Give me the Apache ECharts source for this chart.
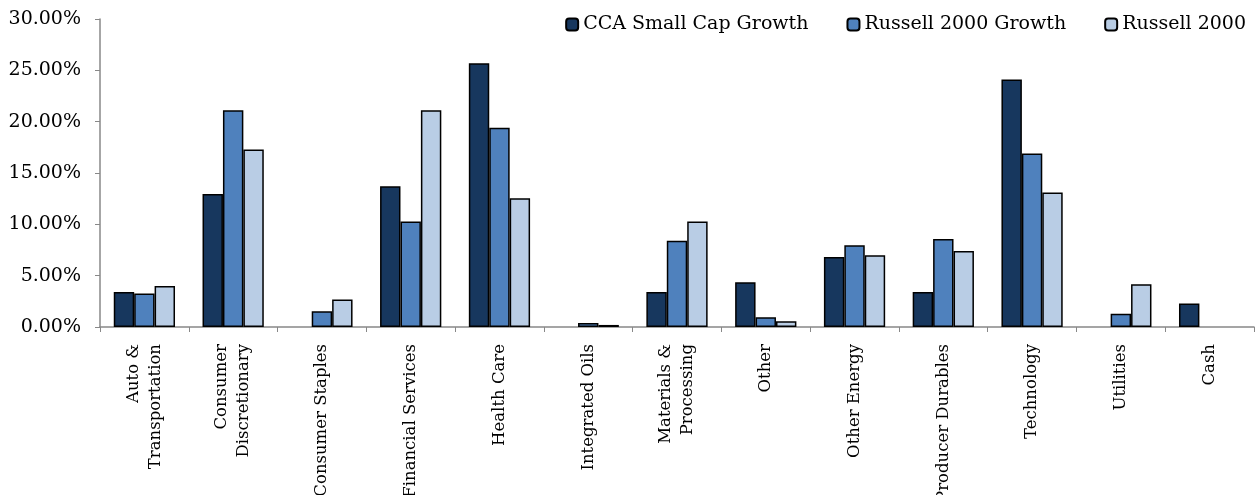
<!DOCTYPE html>
<html>
<head>
<meta charset="utf-8">
<script src="https://cdn.jsdelivr.net/npm/echarts@6/dist/echarts.min.js"></script>
<style>html,body{margin:0;padding:0;background:#fff}#c{width:1255px;height:495px}</style>
</head>
<body>
<div id="c"></div>
<script>
const categories = ["Auto &\nTransportation","Consumer\nDiscretionary","Consumer Staples","Financial Services","Health Care","Integrated Oils","Materials &\nProcessing","Other","Other Energy","Producer Durables","Technology","Utilities","Cash"];
const ccaSmallCapGrowth = [3.41,12.95,0,13.7,25.7,0,3.41,4.36,6.83,3.41,24.1,0,2.28];
const russell2000Growth = [3.26,21.1,1.53,10.28,19.4,0.4,8.39,0.95,7.97,8.56,16.9,1.3,0];
const russell2000 = [4.0,17.3,2.67,21.1,12.53,0.2,10.28,0.56,7.0,7.41,13.1,4.17,0];
const yTicks = [0,5,10,15,20,25,30];

const FONT = "DejaVu Serif";
const chart = echarts.init(document.getElementById('c'));
const mk = (name, data, color) => ({
  name, type: 'bar', data: data.map(v => v === 0 ? '-' : v), barGap: '0%', barCategoryGap: '31%',
  itemStyle: { color, borderColor: '#000', borderWidth: 1.5 },
  emphasis: { disabled: true }
});
chart.setOption({
  animation: false,
  textStyle: { fontFamily: FONT },
  legend: {
    top: 10, right: 4, itemWidth: 12, itemHeight: 12, itemGap: 38, itemTextGap: 7,
    textStyle: { fontFamily: FONT, fontSize: 19, color: '#000' },
    data: ['CCA Small Cap Growth','Russell 2000 Growth','Russell 2000']
  },
  grid: { left: 100, right: 1, top: 19, bottom: 168, outerBoundsMode: 'none', containLabel: false },
  xAxis: {
    type: 'category', data: categories,
    axisLine: { lineStyle: { color: '#888', width: 1.5 } },
    axisTick: { show: true, length: 5, lineStyle: { color: '#888' } },
    axisLabel: { rotate: 90, interval: 0, fontFamily: FONT, fontSize: 16.5, color: '#000', lineHeight: 22, margin: 17 }
  },
  yAxis: {
    type: 'value', min: yTicks[0], max: yTicks[yTicks.length-1], interval: 5,
    axisLine: { show: true, lineStyle: { color: '#888', width: 1.5 } },
    axisTick: { show: true, length: 5, lineStyle: { color: '#888' } },
    splitLine: { show: false },
    axisLabel: { fontFamily: FONT, fontSize: 19, color: '#000', margin: 19, formatter: v => v.toFixed(2) + '%' }
  },
  series: [
    mk('CCA Small Cap Growth', ccaSmallCapGrowth, '#17375E'),
    mk('Russell 2000 Growth', russell2000Growth, '#4F81BD'),
    mk('Russell 2000', russell2000, '#B9CDE5')
  ]
});
</script>
</body>
</html>
